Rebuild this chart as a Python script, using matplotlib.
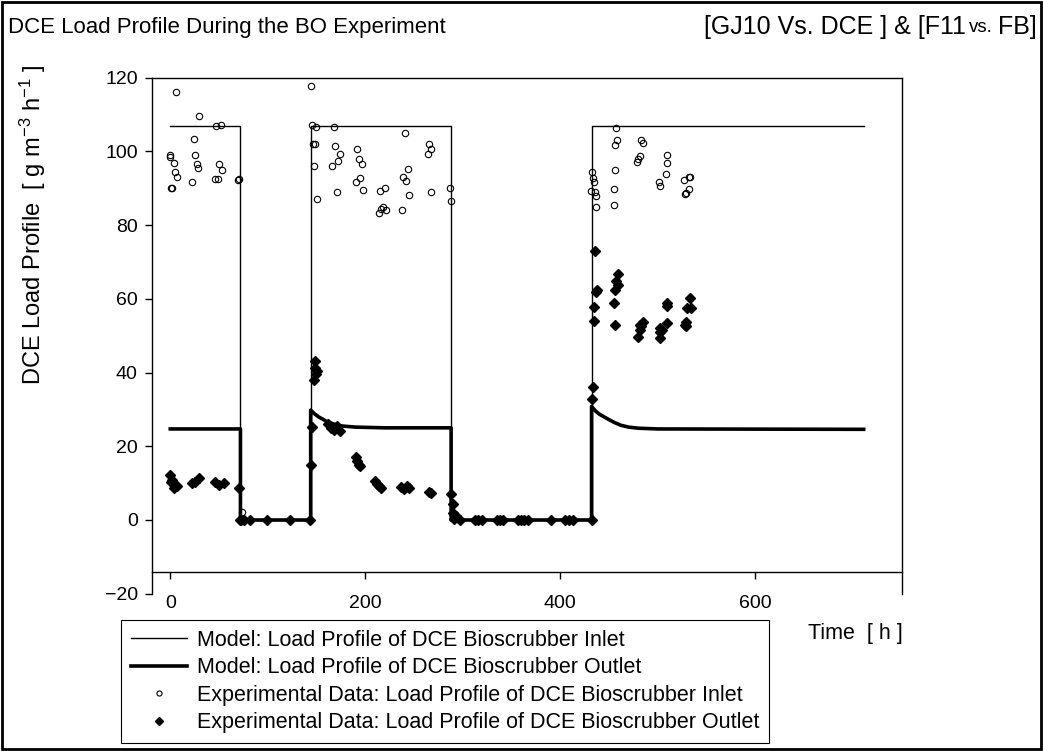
import matplotlib
matplotlib.use('Agg')
import matplotlib.pyplot as plt
from matplotlib.patches import Rectangle

plt.rcParams['font.family'] = ['Liberation Sans', 'DejaVu Sans']
plt.rcParams['mathtext.fontset'] = 'custom'
plt.rcParams['mathtext.rm'] = 'Liberation Sans'
plt.rcParams['mathtext.it'] = 'Liberation Sans:italic'

# model curves
model_in_t = [0, 72, 72, 144, 144, 288, 288, 432, 432, 711]
model_in_y = [107, 107, 0, 0, 107, 107, 0, 0, 107, 107]

model_out_t = [0, 72, 72, 144, 144, 148, 152, 160, 168, 176, 190, 220, 288, 288,
               432, 432, 436, 440, 448, 455, 462, 470, 480, 500, 711]
model_out_y = [24.7, 24.7, 0, 0, 29.8, 28.8, 28.0, 26.8, 26.0, 25.5, 25.2, 25.0, 25.0, 0,
               0, 30.8, 29.6, 28.7, 27.5, 26.5, 25.7, 25.2, 24.9, 24.7, 24.6]

# experimental data, inlet (open circles)
exp_in_t = [0, 0, 3.4, 4.4, 6.5, 1, 2, 5.8, 24.3, 25.6, 27, 28.4, 22.6, 29.7,
            47.2, 52, 50.3, 53.3, 45.5, 49.3, 69.4, 71, 74,
            144.3, 145.3, 149.7, 146.7, 148.7, 147.4, 150.4, 167.5, 169.2, 173.7, 172, 165.8, 170.6,
            191.5, 193.2, 196.3, 194.9, 190.1, 197.6, 215.4, 220.5, 218, 216.4, 214.4, 221.5,
            240.7, 243.8, 239, 242, 245.1, 237.9, 265, 267, 263.9, 267.7, 286.5, 287.5,
            457, 458, 456.4, 432.8, 433.8, 434.6, 431.1, 435.2, 436.2, 436.6, 455.7, 455.1, 454.7,
            482.7, 484.8, 481.3, 480, 478.3, 509, 509.4, 508.4, 501.2, 501.9,
            527.2, 532, 532.6, 531.6, 527.5, 528.5]
exp_in_y = [99.0, 98.6, 96.8, 94.3, 93.1, 90.0, 90.2, 116.2, 103.4, 98.9, 96.6, 95.4, 91.7, 109.7,
            107.0, 107.3, 96.7, 94.9, 92.6, 92.6, 92.3, 92.6, 2.3,
            117.8, 107.2, 106.7, 101.9, 102.1, 96.1, 87.2, 106.5, 101.6, 99.3, 97.3, 96.0, 89.1,
            100.6, 97.9, 96.5, 92.7, 91.6, 89.4, 89.3, 90.2, 84.9, 84.4, 83.2, 84.2,
            104.9, 95.2, 93.0, 92.1, 88.2, 84.0, 101.9, 100.7, 99.4, 89.0, 90.2, 86.6,
            106.4, 103.1, 101.8, 94.4, 92.9, 91.6, 89.2, 89.1, 87.8, 85.0, 95.0, 89.9, 85.4,
            103.2, 102.3, 98.8, 97.9, 97.1, 98.9, 96.8, 93.9, 91.6, 90.6,
            92.3, 93.1, 93.1, 89.7, 88.4, 88.7]

# experimental data, outlet (filled diamonds)
exp_out_t = [0, 1.7, 3.4, 6.9, 0.3, 22.3, 25.6, 29, 46.2, 49.5, 54.7, 70,
             72, 73, 75.2, 82, 99.2, 123, 143.6,
             144.5, 145, 148, 148.7, 149.4, 150.5, 147, 162, 165, 168, 171, 174,
             190, 192, 194, 195, 210, 212, 214, 216, 237, 240, 243, 245, 265, 267,
             287.9, 289.5, 289.5, 293, 290.6,
             297, 312, 316, 320, 335, 338, 341, 357, 360, 363, 367, 390, 405, 409, 413, 432,
             432.8, 433.5, 434.6, 434.9, 435.9, 436.2, 437.6, 455.4, 455.7, 456.1, 457.4, 458.8, 459.2,
             479.3, 481.4, 483.1, 484.8, 482, 501.9, 502.2, 503.9, 501.9, 509.4, 509.7, 509.7,
             528.2, 529, 533.3, 529.9, 534, 528.9]
exp_out_y = [12.2, 10.9, 8.6, 9.2, 10.4, 10.0, 10.4, 11.3, 10.4, 9.5, 10.1, 8.8,
             0, 0, 0, 0, 0, 0, 0,
             14.9, 25.3, 43.1, 41.2, 39.6, 40.5, 38, 26, 25, 24.5, 25.5, 24.2,
             17, 16, 15, 14.6, 10.5, 9.8, 9.2, 8.6, 9, 8.5, 9.1, 8.8, 7.7, 7.2,
             7.0, 4.3, 2.0, 1.2, 0.2,
             0, 0, 0, 0, 0, 0, 0, 0, 0, 0, 0, 0, 0, 0, 0, 0,
             32.8, 36.2, 53.9, 57.9, 73.1, 61.9, 62.4, 59.0, 62.4, 52.9, 64.9, 66.8, 63.7,
             49.7, 51.5, 52.6, 53.8, 52.9, 49.3, 51.1, 51.5, 52.2, 53.5, 59.0, 58.1,
             52.9, 53.8, 60.3, 57.4, 57.4, 52.7]

y_ticks = [-20, 0, 20, 40, 60, 80, 100, 120]
x_ticks = [0, 200, 400, 600]

W, H = 1044, 751
def fx(px):
    return px / W
def fy(py):
    return 1 - py / H

fig = plt.figure(figsize=(W / 100, H / 100), dpi=100)
ax = fig.add_axes([fx(151.7), fy(593.7), 750 / W, 516 / H])

ax.plot(model_in_t, model_in_y, color='black', lw=1.0,
        label='Model: Load Profile of DCE Bioscrubber Inlet')
ax.plot(model_out_t, model_out_y, color='black', lw=2.6,
        label='Model: Load Profile of DCE Bioscrubber Outlet')
ax.plot(exp_in_t, exp_in_y, 'o', ls='none', mfc='none', mec='black', ms=4.6, mew=0.8,
        label='Experimental Data: Load Profile of DCE Bioscrubber Inlet')
ax.plot(exp_out_t, exp_out_y, 'D', ls='none', color='black', ms=5,
        label='Experimental Data: Load Profile of DCE Bioscrubber Outlet')

ax.set_xlim(-19, 750)
ax.set_ylim(-20, 120)
ax.set_xticks(x_ticks)
ax.set_yticks(y_ticks)
ax.spines['bottom'].set_position(('data', -14.2))
for s in ax.spines.values():
    s.set_linewidth(1.0)
ax.tick_params(direction='out', length=5, width=1, labelsize=14, pad=5)
ax.tick_params(axis='x', pad=11)

leg = fig.legend(loc='upper left', bbox_to_anchor=(fx(121), fy(620)), fontsize=15.5,
                 frameon=True, fancybox=False, edgecolor='black', framealpha=1,
                 borderaxespad=0, borderpad=0.45, labelspacing=0.3, handlelength=2.6,
                 handletextpad=0.5, markerscale=0.8)
leg.get_frame().set_linewidth(0.8)

fig.text(fx(33), fy(225), 'DCE Load Profile  [ g m$^{-3}$ h$^{-1}$ ]', rotation=90,
         ha='center', va='center', fontsize=17)
fig.text(fx(903), fy(633), 'Time  [ h ]', ha='right', va='center', fontsize=15.5)

# title: left part and bracketed part with a smaller "vs."
fig.text(fx(8), fy(27), 'DCE Load Profile During the BO Experiment', ha='left', va='center',
         fontsize=16)
r = fig.canvas.get_renderer()
x = 1037
for txt, size, gap in [('FB]', 18, 5), ('vs.', 13.5, 4), ('[GJ10 Vs. DCE ] & [F11', 18, 0)]:
    t = fig.text(fx(x), fy(27), txt, ha='right', va='center', fontsize=size)
    bb = t.get_window_extent(renderer=r)
    x = bb.x0 - gap

fig.add_artist(Rectangle((0.002, 0.003), 0.995, 0.994, transform=fig.transFigure,
                         fill=False, lw=2, ec='black'))

fig.savefig('out.png', dpi=100)
